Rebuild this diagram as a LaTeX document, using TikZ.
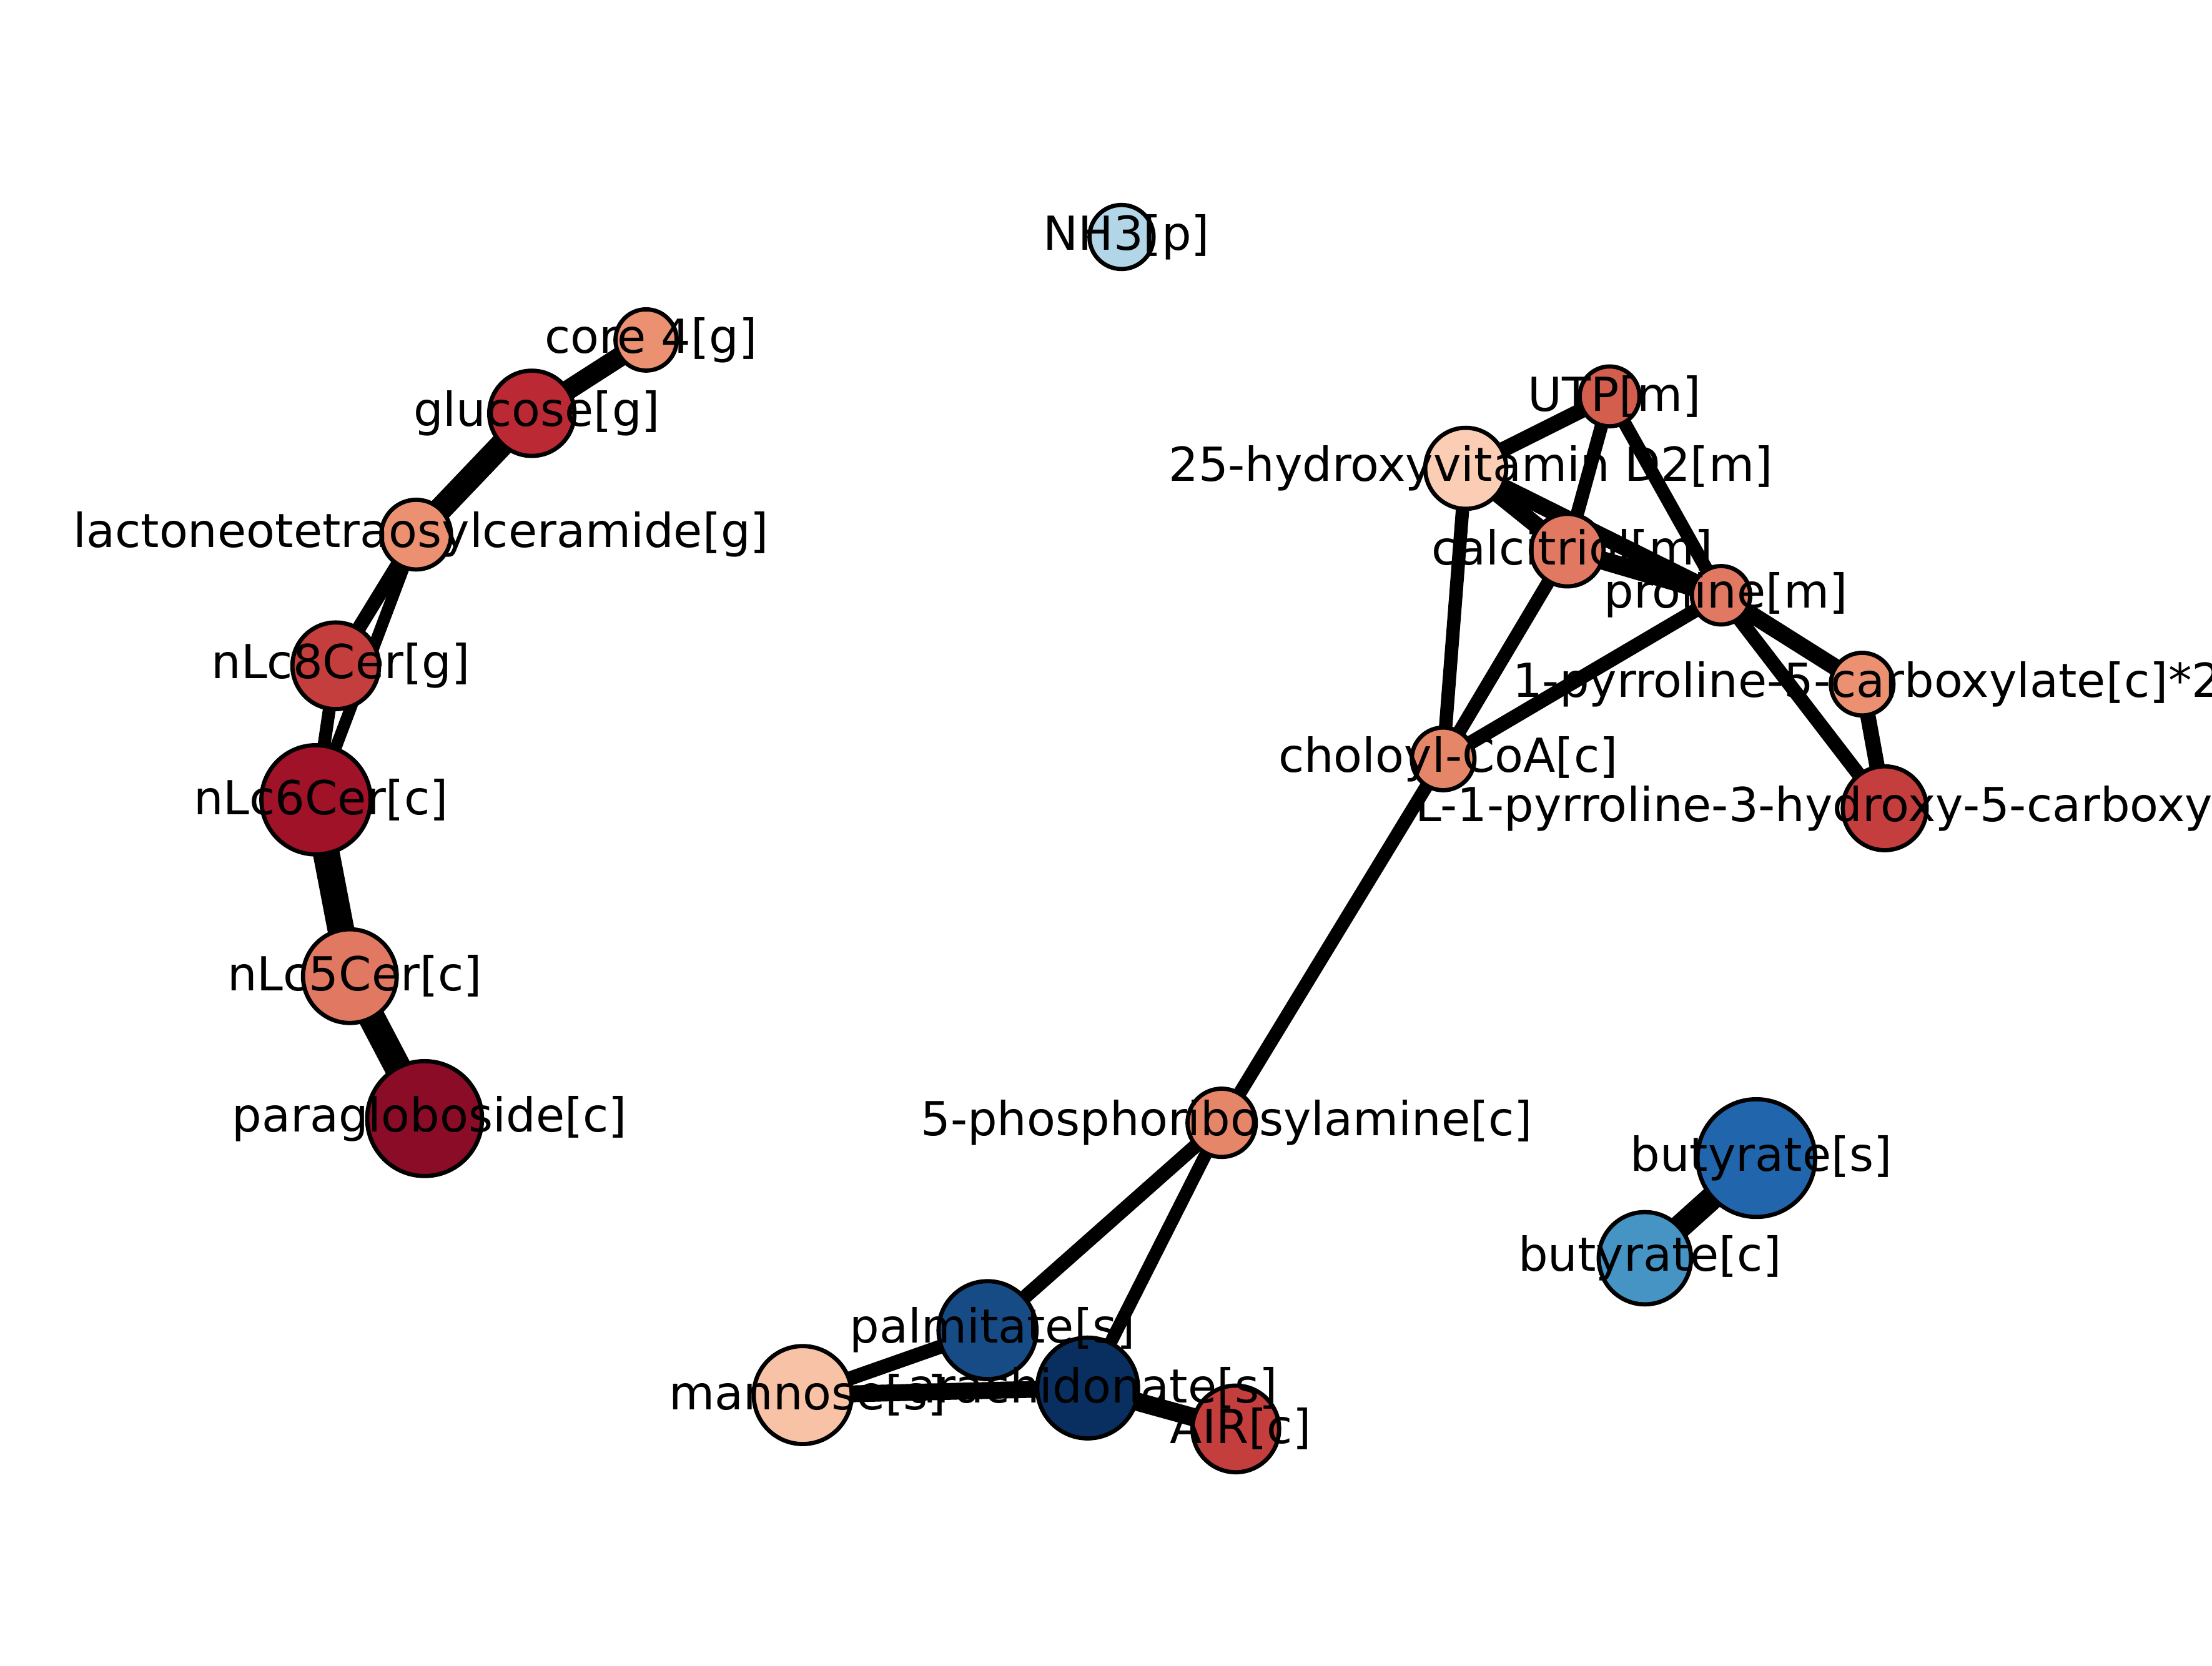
\documentclass[tikz,border=0pt]{standalone}
\usepackage{fontspec}
\setmainfont{DejaVu Sans}
\usetikzlibrary{backgrounds}

\definecolor{rd1}{HTML}{8B0C26}
\definecolor{rd2}{HTML}{A01228}
\definecolor{rd3}{HTML}{BB2A34}
\definecolor{rd4}{HTML}{C43E3D}
\definecolor{rd5}{HTML}{D35E4D}
\definecolor{rd6}{HTML}{E07862}
\definecolor{rd7}{HTML}{E68669}
\definecolor{rd8}{HTML}{EB9172}
\definecolor{rd9}{HTML}{F8C2A6}
\definecolor{rd10}{HTML}{FACDB4}
\definecolor{bu1}{HTML}{B3D5E8}
\definecolor{bu2}{HTML}{4694C4}
\definecolor{bu3}{HTML}{2166AC}
\definecolor{bu4}{HTML}{164B86}
\definecolor{bu5}{HTML}{082F60}

\begin{document}
\begin{tikzpicture}
      [x=0.01cm, y=-0.01cm,
       met/.style={circle, draw=black, line width=0.85pt, inner sep=0pt},
       tag/.style={inner sep=0pt, xshift=0.035cm, font=\fontsize{9.45}{11}\selectfont},
       link/.style={line width=#1}, link/.default=2.7pt]
      \useasboundingbox (0,0) rectangle (1568,1181);
      \clip (0,0) rectangle (1568,1181);

      % metabolites
      \node [met, fill=bu1, minimum size=0.454cm] (nh3) at (795,168) {};
      \node [met, fill=rd8, minimum size=0.434cm] (core4) at (458,241) {};
      \node [met, fill=rd3, minimum size=0.604cm] (glc) at (377,293) {};
      \node [met, fill=rd8, minimum size=0.494cm] (lnt) at (295,379) {};
      \node [met, fill=rd4, minimum size=0.614cm] (nlc8) at (238,472) {};
      \node [met, fill=rd2, minimum size=0.774cm] (nlc6) at (224,567) {};
      \node [met, fill=rd6, minimum size=0.664cm] (nlc5) at (248,692) {};
      \node [met, fill=rd1, minimum size=0.814cm] (pgb) at (301,793) {};
      \node [met, fill=rd5, minimum size=0.424cm] (utp) at (1141,281) {};
      \node [met, fill=rd10, minimum size=0.574cm] (hvd) at (1039,332) {};
      \node [met, fill=rd6, minimum size=0.514cm] (ctl) at (1111,390) {};
      \node [met, fill=rd6, minimum size=0.414cm] (pro) at (1220,422) {};
      \node [met, fill=rd8, minimum size=0.444cm] (p5c) at (1320,485) {};
      \node [met, fill=rd4, minimum size=0.594cm] (hpc) at (1336,573) {};
      \node [met, fill=rd7, minimum size=0.444cm] (cho) at (1023,538) {};
      \node [met, fill=rd7, minimum size=0.484cm] (pra) at (866,796) {};
      \node [met, fill=bu4, minimum size=0.694cm] (pal) at (700,943) {};
      \node [met, fill=bu5, minimum size=0.714cm] (ara) at (771,984) {};
      \node [met, fill=rd9, minimum size=0.694cm] (man) at (569,989) {};
      \node [met, fill=rd4, minimum size=0.614cm] (air) at (876,1013) {};
      \node [met, fill=bu3, minimum size=0.834cm] (buts) at (1245,821) {};
      \node [met, fill=bu2, minimum size=0.654cm] (butc) at (1166,892) {};

      % reactions
      \begin{scope}[on background layer]
        \draw [link=4pt] (core4.center) -- (glc.center);
        \draw [link=4.8pt] (glc.center) -- (lnt.center);
        \draw [link=2.85pt] (lnt.center) -- (nlc8.center);
        \draw [link=2.4pt] (lnt.center) -- (nlc6.center);
        \draw [link=2.6pt] (nlc8.center) -- (nlc6.center);
        \draw [link=5.4pt] (nlc6.center) -- (nlc5.center);
        \draw [link=5.4pt] (nlc5.center) -- (pgb.center);
        \draw [link=3.1pt] (utp.center) -- (hvd.center);
        \draw [link] (utp.center) -- (ctl.center);
        \draw [link] (utp.center) -- (pro.center);
        \draw [link=3.4pt] (hvd.center) -- (ctl.center);
        \draw [link=3.4pt] (hvd.center) -- (pro.center);
        \draw [link=3.7pt] (ctl.center) -- (pro.center);
        \draw [link] (hvd.center) -- (cho.center);
        \draw [link] (ctl.center) -- (cho.center);
        \draw [link=2.85pt] (pro.center) -- (cho.center);
        \draw [link=3.4pt] (pro.center) -- (p5c.center);
        \draw [link=2.85pt] (pro.center) -- (hpc.center);
        \draw [link=3.1pt] (p5c.center) -- (hpc.center);
        \draw [link] (cho.center) -- (pra.center);
        \draw [link=2.85pt] (pra.center) -- (pal.center);
        \draw [link=2.6pt] (pra.center) -- (ara.center);
        \draw [link=2.85pt] (pal.center) -- (man.center);
        \draw [link=3.4pt] (man.center) -- (ara.center);
        \draw [link=3.7pt] (ara.center) -- (air.center);
        \draw [link=4.8pt] (buts.center) -- (butc.center);
      \end{scope}

      % names
      \node [tag] (nh3-t) at (nh3) {NH3[p]};
      \node [tag] (core4-t) at (core4) {core 4[g]};
      \node [tag] (glc-t) at (glc) {glucose[g]};
      \node [tag] (lnt-t) at (lnt) {lactoneotetraosylceramide[g]};
      \node [tag] (nlc8-t) at (nlc8) {nLc8Cer[g]};
      \node [tag] (nlc6-t) at (nlc6) {nLc6Cer[c]};
      \node [tag] (nlc5-t) at (nlc5) {nLc5Cer[c]};
      \node [tag] (pgb-t) at (pgb) {paragloboside[c]};
      \node [tag] (utp-t) at (utp) {UTP[m]};
      \node [tag] (hvd-t) at (hvd) {25-hydroxyvitamin D2[m]};
      \node [tag] (ctl-t) at (ctl) {calcitriol[m]};
      \node [tag] (pro-t) at (pro) {proline[m]};
      \node [tag] (p5c-t) at (p5c) {1-pyrroline-5-carboxylate[c]*2};
      \node [tag] (hpc-t) at (hpc) {L-1-pyrroline-3-hydroxy-5-carboxylate[c]};
      \node [tag] (cho-t) at (cho) {choloyl-CoA[c]};
      \node [tag] (pra-t) at (pra) {5-phosphoribosylamine[c]};
      \node [tag] (pal-t) at (pal) {palmitate[s]};
      \node [tag] (ara-t) at (ara) {arachidonate[s]};
      \node [tag] (man-t) at (man) {mannose[s]};
      \node [tag] (air-t) at (air) {AIR[c]};
      \node [tag] (buts-t) at (buts) {butyrate[s]};
      \node [tag] (butc-t) at (butc) {butyrate[c]};
\end{tikzpicture}
\end{document}
